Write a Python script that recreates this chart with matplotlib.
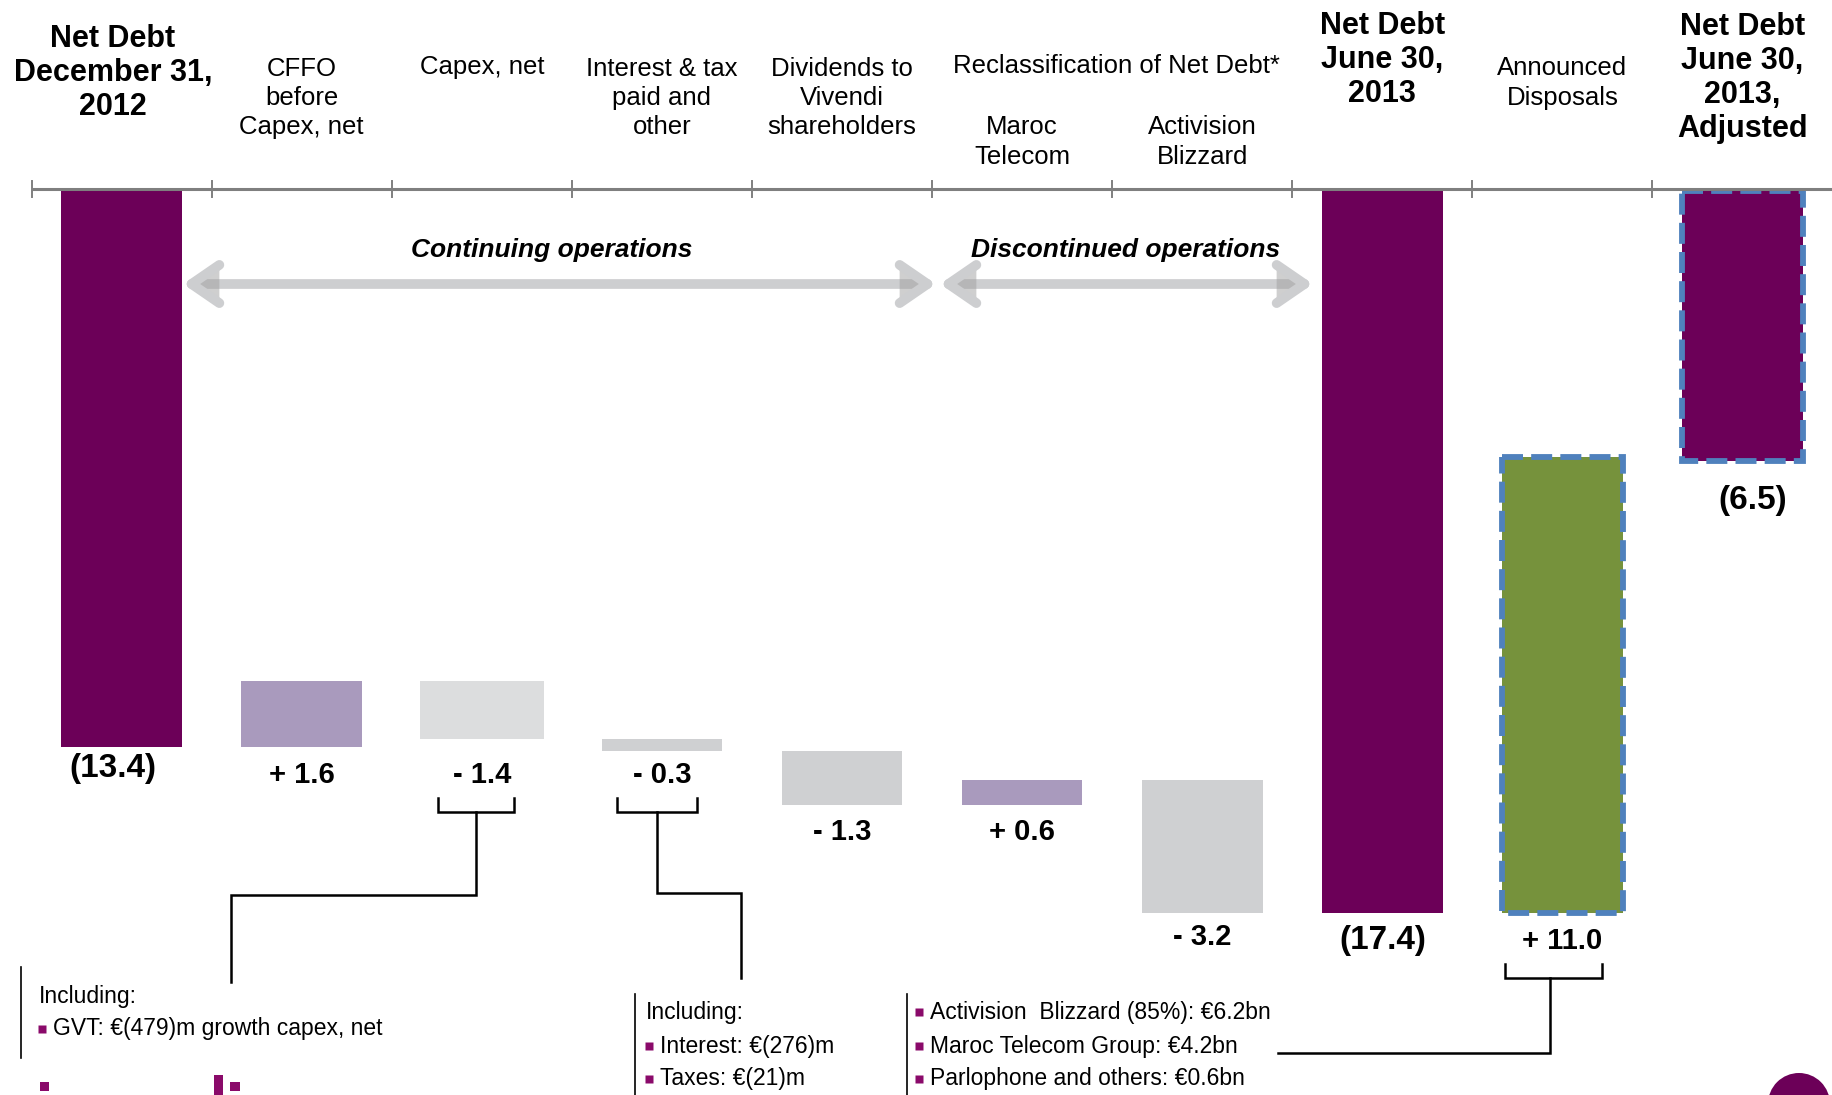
import numpy as np
import matplotlib
matplotlib.use('Agg')
import matplotlib.pyplot as plt
from matplotlib.patches import Rectangle, Ellipse
import matplotlib.patheffects as pe

# ---- data ----
categories = ['Net Debt\nDecember 31,\n2012', 'CFFO\nbefore\nCapex, net', 'Capex, net',
              'Interest & tax\npaid and\nother', 'Dividends to\nVivendi\nshareholders',
              'Maroc\nTelecom', 'Activision\nBlizzard', 'Net Debt\nJune 30,\n2013',
              'Announced\nDisposals', 'Net Debt\nJune 30,\n2013,\nAdjusted']
values = [13.4, 1.6, -1.4, -0.3, -1.3, 0.6, -3.2, 17.4, 11.0, 6.5]
is_total = [True, False, False, False, False, False, False, True, False, True]

box_capex = ['Including:', 'GVT: \u20ac(479)m growth capex, net']
box_interest = ['Including:', 'Interest: \u20ac(276)m', 'Taxes: \u20ac(21)m']
box_disposals = ['Activision  Blizzard (85%): \u20ac6.2bn', 'Maroc Telecom Group: \u20ac4.2bn',
                 'Parlophone and others: \u20ac0.6bn']

# ---- style ----
PURPLE = '#6C0058'
LILAC = '#A99ABD'
GREY = '#CFD0D2'
GREY2 = '#DCDDDE'
GREEN = '#76923C'
BLUE = '#4F81BD'
bar_colors = [PURPLE, LILAC, GREY2, GREY, GREY, LILAC, GREY, PURPLE, GREEN, PURPLE]
dashed = [False] * 8 + [True, True]
FONT = ['Liberation Sans Narrow', 'Liberation Sans', 'DejaVu Sans']

# pixel (of the 1833x1095 picture) -> data units
X0, DX, Y0, DY = 31.6, 180.1, 191.0, 41.5
def P(xp, yp):
    return (xp - X0) / DX - 0.5, (yp - Y0) / DY

fig = plt.figure(figsize=(18.33, 10.95), dpi=100)
ax = fig.add_axes([0, 0, 1, 1])
ax.set_xlim(P(0, 0)[0], P(1833, 0)[0])
ax.set_ylim(P(0, 1095)[1], P(0, 0)[1])
ax.axis('off')

# waterfall levels (net debt, drawn downward)
bottoms, heights = [], []
level = 0.0
for v, tot in zip(values, is_total):
    if tot:
        bottoms.append(0.0)
        heights.append(v)
        level = v
    else:
        new = level - v
        bottoms.append(min(level, new))
        heights.append(abs(v))
        level = new

x = np.arange(len(values))
for i in range(len(values)):
    w = 0.69 if i == 2 else 0.67
    if dashed[i]:
        ax.bar(x[i], heights[i], bottom=bottoms[i], width=w, color=bar_colors[i],
               edgecolor=BLUE, linewidth=4.2, linestyle=(0, (3.6, 1.4)), zorder=2)
    else:
        ax.bar(x[i], heights[i], bottom=bottoms[i], width=w, color=bar_colors[i],
               linewidth=0, zorder=2)

# top axis line with boundary ticks
ax.plot([-0.5, P(1833, 0)[0]], [-0.05, -0.05], color='#7F7F7F', lw=2.2, zorder=3,
        solid_capstyle='butt')
for b in np.arange(-0.5, len(values), 1.0):
    ax.plot([b, b], [-0.05 - 0.2, -0.05 + 0.2], color='#7F7F7F', lw=1.4, zorder=3)

# category headers
head_y = [73, 98, 67, 98, 98, 142, 142, 60, 83, 78]
for i, name in enumerate(categories):
    xc = P(113, 0)[0] if i == 0 else x[i]
    if is_total[i]:
        ax.text(xc, P(0, head_y[i])[1], name, ha='center', va='center', fontsize=22,
                fontweight='bold', family=FONT, linespacing=1.17)
    else:
        ax.text(xc, P(0, head_y[i])[1], name, ha='center', va='center', fontsize=18.5,
                family=FONT, linespacing=1.28)
ax.text(*P(1116, 66), 'Reclassification of Net Debt*', ha='center', va='center',
        fontsize=18.5, family=FONT)

# value labels
lab_y = [769, 775, 775, 775, 832, 832, 937, 941, 941, 501]
for i, v in enumerate(values):
    if is_total[i]:
        s = '(%.1f)' % v
        fs = 24
    else:
        s = ('+ %.1f' % v) if v > 0 else ('- %.1f' % abs(v))
        fs = 21
    xc = x[i]
    if i == 0:
        xc = P(113, 0)[0]
    if i == 9:
        xc = P(1753, 0)[0]
    ax.text(xc, P(0, lab_y[i])[1], s, ha='center', va='center', fontsize=fs,
            fontweight='bold', family=FONT)

# operations arrows
arrow_kw = dict(arrowstyle='<->,head_length=0.8,head_width=0.55', lw=7, color='#CDCED0',
                shrinkA=0, shrinkB=0, mutation_scale=25,
                path_effects=[pe.SimplePatchShadow(offset=(0, -1.5), shadow_rgbFace='#A0A0A0',
                                                   alpha=0.5), pe.Normal()])
ax.annotate('', xy=P(183, 284), xytext=P(936, 284), arrowprops=arrow_kw)
ax.annotate('', xy=P(940, 284), xytext=P(1313, 284), arrowprops=arrow_kw)
ax.text(*P(552, 250), 'Continuing operations', ha='center', va='center', fontsize=19,
        fontweight='bold', fontstyle='italic', family=FONT)
ax.text(*P(1126, 250), 'Discontinued operations', ha='center', va='center', fontsize=19,
        fontweight='bold', fontstyle='italic', family=FONT)

# brackets and connectors
def path(pts, lw=1.8):
    xs, ys = zip(*[P(a, b) for a, b in pts])
    ax.plot(xs, ys, color='black', lw=lw, zorder=4, solid_joinstyle='miter')

path([(438, 798), (438, 812), (514, 812), (514, 798)])
path([(476, 812), (476, 895), (231, 895), (231, 982)])
path([(617, 798), (617, 812), (697, 812), (697, 798)])
path([(657, 812), (657, 893), (741, 893), (741, 978)])
path([(1505, 964), (1505, 978), (1602, 978), (1602, 964)])
path([(1550, 978), (1550, 1053), (1278, 1053)])

# comment boxes
def box(xline, ytop, ybot, xtext, rows, bullets):
    path([(xline, ytop), (xline, ybot)], lw=1.2)
    for k, (txt, bul) in enumerate(zip(rows, bullets)):
        yy = P(0, [1012, 1046, 1079][k] if ytop > 980 else [996, 1029][k])[1]
        if bul:
            ax.plot(P(xtext + 3, 0)[0], yy, marker='s', ms=5.5, color='#8A0A6A',
                    mec='none', zorder=4)
            ax.text(P(xtext + 14, 0)[0], yy, txt, ha='left', va='center', fontsize=16.5,
                    family=FONT)
        else:
            ax.text(P(xtext, 0)[0], yy, txt, ha='left', va='center', fontsize=16.5,
                    family=FONT)

box(21, 967, 1058, 39, box_capex, [False, True])
box(635, 994, 1095, 646, box_interest, [False, True, True])
box(907, 994, 1095, 916, box_disposals, [True, True, True])

# logo fragments and page marker at the bottom edge
for (a, b, c, d) in [(40, 1082, 49, 1091), (214, 1075, 223, 1095), (230, 1082, 240, 1091)]:
    x1, y1 = P(a, b)
    x2, y2 = P(c, d)
    ax.add_patch(Rectangle((x1, y1), x2 - x1, y2 - y1, color='#8A0A6A', lw=0))
cx, cy = P(1799, 1104)
ax.add_patch(Ellipse((cx, cy), 62 / DX, 62 / DY, color=PURPLE, lw=0))

fig.savefig('out.png', dpi=100)
